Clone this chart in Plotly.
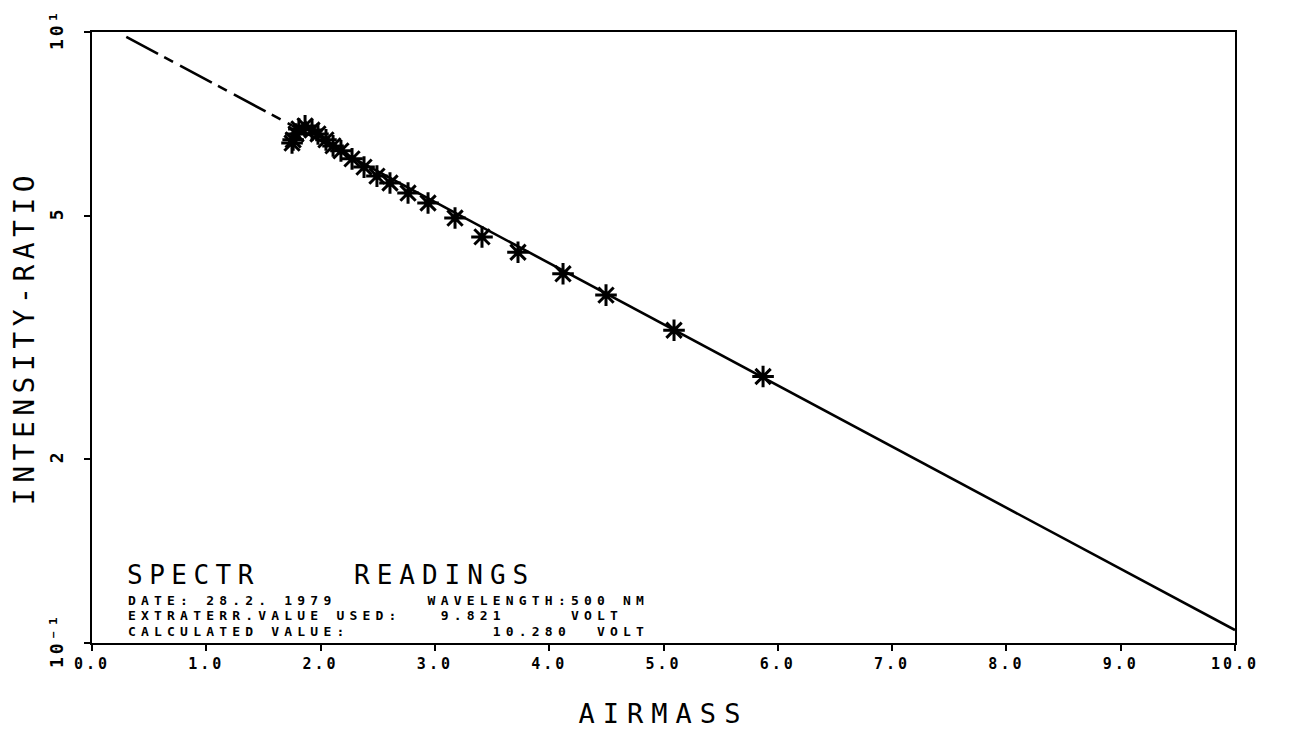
import plotly.graph_objects as go

# ---- data ----
airmass = [1.75, 1.76, 1.785, 1.81, 1.864, 1.925, 1.977, 2.047, 2.109, 2.178,
           2.275, 2.380, 2.493, 2.607, 2.765, 2.940, 3.176, 3.412, 3.727,
           4.121, 4.497, 5.092, 5.871]
intensity_ratio = [6.58, 6.66, 6.81, 6.94, 7.02, 6.91, 6.81, 6.66, 6.51, 6.39,
                   6.20, 6.01, 5.81, 5.66, 5.45, 5.25, 4.96, 4.62, 4.36,
                   4.02, 3.71, 3.25, 2.73]

fit_x_extrapolated = [0.30, 1.75]
fit_y_extrapolated = [9.82, 7.03]
fit_x_measured = [1.75, 10.0]
fit_y_measured = [7.03, 1.05]

x_tick_values = [0, 1, 2, 3, 4, 5, 6, 7, 8, 9, 10]
x_tick_labels = ["0.0", "1.0", "2.0", "3.0", "4.0", "5.0", "6.0", "7.0", "8.0", "9.0", "10.0"]
y_tick_values = [1, 2, 5, 10]
y_tick_labels = ["10\u207b\u00b9", "2", "5", "10\u00b9"]

header_left = "SPECTR"
header_right = "READINGS"
info_lines = [
    "DATE: 28.2. 1979       WAVELENGTH:500 NM",
    "EXTRATERR.VALUE USED:   9.821     VOLT",
    "CALCULATED VALUE:           10.280  VOLT",
]

FONT = "DejaVu Sans Mono"
INK = "black"

fig = go.Figure()

fig.add_trace(go.Scatter(
    x=fit_x_extrapolated, y=fit_y_extrapolated, mode="lines",
    line=dict(color=INK, width=2.6, dash="36px,7px,10px,8px"),
    showlegend=False, hoverinfo="skip"))
fig.add_trace(go.Scatter(
    x=fit_x_measured, y=fit_y_measured, mode="lines",
    line=dict(color=INK, width=2.6),
    showlegend=False, hoverinfo="skip"))
fig.add_trace(go.Scatter(
    x=airmass, y=intensity_ratio, mode="markers",
    marker=dict(symbol="asterisk-open", size=18, color=INK,
                line=dict(color=INK, width=3)),
    showlegend=False))

# page has an 8px body margin; figure reaches the bottom of the window
OFF = 8
W, H = 1291 - 2 * OFF, 729 - OFF
# plot area in page pixels: x 92..1235, y 32..643
L, R, T, B = 92, 1235, 32, 643
def px(xp):
    return (xp - L) / (R - L)
def py(yp):
    return (B - yp) / (B - T)

annotations = [
    dict(text=header_left, x=px(126), y=py(575), xanchor="left", yanchor="middle",
         font=dict(family=FONT, size=26, color=INK)),
    dict(text=header_right, x=px(353), y=py(575), xanchor="left", yanchor="middle",
         font=dict(family=FONT, size=26, color=INK)),
]
for i, line in enumerate(info_lines):
    annotations.append(dict(text=line, x=px(127), y=py(600.8 + 15.1 * i),
                            xanchor="left", yanchor="middle",
                            font=dict(family=FONT, size=13, color=INK, weight="bold")))
for a in annotations:
    a.update(xref="paper", yref="paper", showarrow=False, align="left", borderpad=0)

fig.update_layout(
    width=W, height=H,
    margin=dict(l=L - OFF, r=W - (R - OFF), t=T - OFF, b=H - (B - OFF), autoexpand=False),
    template="none",
    paper_bgcolor="white", plot_bgcolor="white",
    font=dict(family=FONT, color=INK),
    annotations=annotations,
    xaxis=dict(
        range=[0, 10], tickvals=x_tick_values, ticktext=x_tick_labels, automargin=False,
        showgrid=False, zeroline=False, showline=True, linecolor=INK, linewidth=2,
        mirror=True, ticks="outside", ticklen=6, tickwidth=2, tickcolor=INK,
        tickfont=dict(family=FONT, size=15, color=INK, weight="bold"),
        title=dict(text="AIRMASS", font=dict(family=FONT, size=27, color=INK), standoff=38),
    ),
    yaxis=dict(
        type="log", range=[0, 1], tickvals=y_tick_values, ticktext=y_tick_labels,
        automargin=False, tickangle=-90, ticklabelstandoff=14,
        showgrid=False, zeroline=False, showline=True, linecolor=INK, linewidth=2,
        mirror=True, ticks="outside", ticklen=6, tickwidth=2, tickcolor=INK,
        tickfont=dict(family=FONT, size=18, color=INK, weight="bold"),
        title=dict(text="INTENSITY-RATIO", font=dict(family=FONT, size=28, color=INK), standoff=10),
    ),
)

post = """
document.documentElement.style.overflow = 'hidden';
document.body.style.overflow = 'hidden';
var gd = document.getElementById('{plot_id}');
function sp(sel, v){ gd.querySelectorAll(sel).forEach(function(t){ t.style.letterSpacing = v; }); }
sp('.xtick text', '3px');
sp('.ytick text', '3px');
sp('.g-xtitle text', '8px');
sp('.g-ytitle text', '5.5px');
gd.querySelectorAll('.annotation-text').forEach(function(t){
  var s = t.textContent;
  if (s === 'SPECTR') { t.style.letterSpacing = '6.5px'; }
  else if (s === 'READINGS') { t.style.letterSpacing = '7px'; }
  else { t.style.letterSpacing = '5.2px'; }
});
"""

fig.write_html("out.html", post_script=post)
